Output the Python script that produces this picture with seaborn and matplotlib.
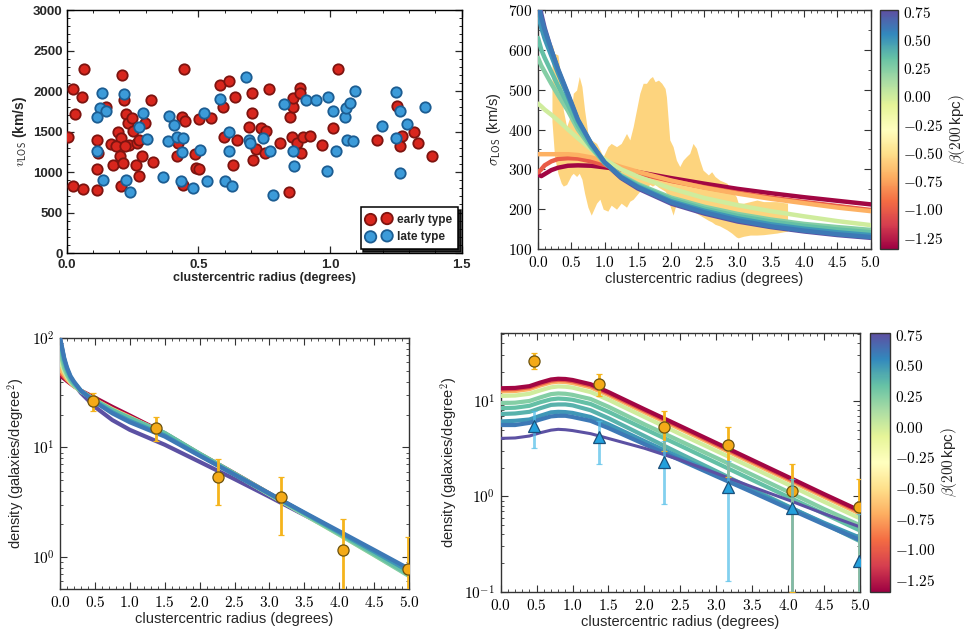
import numpy as np
import pandas as pd
import matplotlib
matplotlib.use('Agg')
import matplotlib.pyplot as plt
import seaborn as sns
from matplotlib.ticker import MultipleLocator, FuncFormatter, LogLocator, NullFormatter
from matplotlib.colors import Normalize, to_rgba
from matplotlib.cm import ScalarMappable

# ---------------- Panel A: scatter ----------------
early_r = [0.006, 0.023, 0.032, 0.023, 0.057, 0.066, 0.061, 0.114, 0.114, 0.114, 0.120, 0.149, 0.168, 0.175,
           0.209, 0.218, 0.205, 0.196, 0.205, 0.187, 0.203, 0.213, 0.225, 0.234, 0.247, 0.238, 0.222, 0.253,
           0.266, 0.263, 0.273, 0.285, 0.297, 0.276, 0.319, 0.327, 0.446, 0.437, 0.449, 0.424, 0.418, 0.443,
           0.489, 0.491, 0.503, 0.504, 0.547, 0.582, 0.618, 0.595, 0.641, 0.597, 0.646, 0.633, 0.703, 0.705,
           0.694, 0.709, 0.719, 0.737, 0.757, 0.753, 0.770, 0.810, 0.846, 0.848, 0.854, 0.858, 0.858, 0.886,
           0.886, 0.873, 0.889, 0.899, 0.924, 0.968, 1.010, 1.032, 1.180, 1.253, 1.272, 1.266, 1.319, 1.335, 1.389]
early_v = [1438, 2022, 1718, 822, 1932, 2269, 789, 1397, 1036, 781, 1233, 1808, 1348, 1089,
           2199, 1891, 822, 1500, 1418, 1315, 1200, 1110, 1718, 1603, 1665, 1336, 1315, 1512,
           1356, 1089, 945, 1200, 1603, 1397, 1891, 1118, 2269, 1685, 1624, 1364, 1200, 842,
           1225, 1044, 1036, 1652, 1665, 2076, 2129, 1808, 1932, 1430, 1397, 1089, 1981, 1734,
           1554, 1151, 1282, 1541, 1512, 1233, 2022, 1356, 748, 1685, 1430, 1808, 1911, 2035,
           1973, 1356, 1233, 1430, 1447, 1336, 1541, 2269, 1389, 1817, 1447, 1323, 1500, 1356, 1192]
late_r = [0.133, 0.127, 0.149, 0.114, 0.114, 0.139, 0.218, 0.225, 0.241, 0.276, 0.291, 0.304, 0.367, 0.390,
          0.408, 0.386, 0.420, 0.443, 0.437, 0.433, 0.481, 0.506, 0.522, 0.534, 0.582, 0.615, 0.618, 0.601,
          0.629, 0.680, 0.694, 0.696, 0.744, 0.772, 0.782, 0.827, 0.861, 0.865, 0.909, 0.947, 0.994, 1.013,
          1.023, 0.987, 1.057, 1.063, 1.089, 1.060, 1.076, 1.095, 1.196, 1.251, 1.266, 1.251, 1.266, 1.294, 1.361]
late_v = [1981, 1788, 1747, 1673, 1254, 896, 1965, 904, 748, 1554, 1734, 1406, 937, 1694,
          1582, 1377, 1438, 1418, 1241, 884, 801, 1274, 1734, 884, 1899, 1500, 1254, 892,
          830, 2170, 1397, 1364, 1418, 1254, 719, 1837, 1254, 1069, 1891, 1891, 1932, 1755,
          1254, 1007, 1685, 1397, 1377, 1796, 1850, 2006, 1562, 1993, 1755, 1418, 986, 1595, 1800]

# ---------------- Panel B: velocity dispersion ----------------
band_x = [0.21, 0.25, 0.30, 0.35, 0.38, 0.43, 0.50, 0.53, 0.58, 0.62, 0.66, 0.70, 0.75, 0.80, 0.88,
          0.93, 0.98, 1.05, 1.10, 1.18, 1.25, 1.33, 1.38, 1.43, 1.48, 1.53, 1.58, 1.63, 1.68, 1.72,
          1.76, 1.81, 1.86, 1.91, 1.93, 1.98, 2.03, 2.08, 2.13, 2.18, 2.23, 2.28, 2.33, 2.38, 2.43,
          2.48, 2.56, 2.61, 2.66, 2.73, 2.84, 2.91, 2.98, 3.01, 3.09, 3.19, 3.29, 3.39, 3.49, 3.59, 3.75]
band_hi = [616, 591, 587, 524, 449, 407, 441, 491, 499, 533, 508, 449, 390, 374, 365,
           349, 332, 357, 365, 357, 365, 390, 374, 407, 449, 491, 516, 516, 528, 533,
           520, 524, 516, 503, 482, 374, 357, 323, 307, 323, 332, 340, 365, 353, 323,
           298, 286, 294, 282, 273, 265, 248, 231, 215, 215, 219, 223, 219, 219, 219, 215]
band_lo = [420, 330, 290, 265, 258, 262, 285, 290, 282, 290, 275, 240, 205, 185, 215,
           225, 200, 195, 210, 200, 215, 205, 220, 225, 235, 245, 250, 255, 262, 258,
           262, 255, 250, 245, 240, 210, 185, 215, 205, 210, 200, 205, 195, 190, 185,
           180, 172, 168, 162, 158, 148, 140, 130, 128, 132, 135, 135, 136, 138, 140, 145]

# line order = drawing order (first drawn ends up underneath)
beta_b = [0.75, -1.33, -1.0, -0.7, 0.0, 0.25, 0.35, 0.5, 0.6]
x_sig = [0, 0.05, 0.1, 0.2, 0.3, 0.45, 0.6, 0.8, 1.0, 1.25, 1.5, 2.0, 2.5, 3.0, 3.5, 4.0, 4.5, 5.0]
sig_p075 = [740, 690, 655, 600, 550, 487, 422, 362, 316, 278, 252, 214, 189, 169, 155, 144, 135, 128]
sig_m133 = [287, 283, 288, 298, 304, 309, 310, 309, 305, 300, 293, 278, 264, 251, 240, 230, 221, 212]
sig_m100 = [292, 300, 310, 320, 326, 328, 327, 320, 311, 300, 290, 271, 255, 241, 229, 218, 208, 198]
sig_m070 = [338, 338, 338, 338, 338, 338, 336, 330, 320, 306, 294, 272, 254, 239, 226, 215, 204, 195]
sig_p000 = [465, 458, 450, 437, 423, 400, 378, 350, 325, 300, 282, 252, 228, 210, 195, 182, 170, 160]
sig_p025 = [580, 560, 545, 515, 487, 447, 400, 354, 316, 285, 263, 229, 206, 188, 174, 163, 155, 148]
sig_p035 = [630, 600, 580, 545, 510, 462, 410, 358, 316, 283, 260, 225, 201, 183, 169, 158, 149, 142]
sig_p050 = [690, 655, 628, 585, 542, 483, 422, 364, 318, 281, 257, 220, 196, 177, 162, 151, 142, 135]
sig_p060 = [720, 680, 650, 600, 553, 490, 425, 365, 318, 280, 255, 217, 192, 172, 157, 146, 137, 130]
sig_lines = [sig_p075, sig_m133, sig_m100, sig_m070, sig_p000, sig_p025, sig_p035, sig_p050, sig_p060]

# ---------------- Panel C: density, all galaxies ----------------
beta_c = [0.75, -1.33, -1.0, -0.7, 0.0, 0.25, 0.35, 0.5, 0.6]
x_den = [0, 0.03, 0.06, 0.1, 0.15, 0.2, 0.3, 0.5, 0.75, 1.0, 1.5, 2.0, 2.5, 3.0, 3.5, 4.0, 4.5, 5.0]
den_p075 = [100, 80, 64, 52, 43, 38, 31.5, 23.5, 17.8, 14.5, 10.6, 7.4, 5.15, 3.55, 2.42, 1.65, 1.12, 0.76]
den_m133 = [45, 44, 42.5, 40.5, 38.3, 36.3, 33, 28.5, 23.5, 19.6, 13.5, 8.75, 5.8, 3.8, 2.5, 1.66, 1.1, 0.74]
den_m100 = [48, 46.5, 44, 41.5, 38.8, 36.5, 33, 27.4, 22.5, 19, 13.4, 8.7, 5.78, 3.78, 2.49, 1.64, 1.09, 0.73]
den_m070 = [52, 49, 46, 42, 39, 36.5, 33, 27.3, 22.4, 18.9, 13.4, 8.7, 5.75, 3.76, 2.47, 1.62, 1.07, 0.71]
den_p000 = [62, 55, 49, 44, 39.5, 36.5, 32.5, 27, 22.2, 18.7, 13.4, 8.7, 5.7, 3.72, 2.44, 1.6, 1.04, 0.68]
den_p025 = [75, 63, 53, 46, 40.5, 37, 32.5, 27, 22, 18.6, 13.5, 8.7, 5.7, 3.72, 2.44, 1.6, 1.04, 0.67]
den_p035 = [85, 70, 58, 49, 42, 38, 33, 27, 22, 18.6, 13.6, 8.8, 5.8, 3.8, 2.5, 1.64, 1.07, 0.69]
den_p050 = [96, 78, 63, 52, 44, 39.5, 33, 26.3, 21, 17.5, 12.9, 8.5, 5.65, 3.78, 2.52, 1.68, 1.12, 0.74]
den_p060 = [100, 82, 66, 54, 45, 40, 33, 26, 20.5, 17, 12.6, 8.4, 5.65, 3.8, 2.55, 1.72, 1.16, 0.78]
den_lines = [den_p075, den_m133, den_m100, den_m070, den_p000, den_p025, den_p035, den_p050, den_p060]

pts_r = [0.47, 1.37, 2.27, 3.16, 4.05, 4.98]
all_dens = [26.5, 15.2, 5.4, 3.5, 1.15, 0.78]
all_err = [5.0, 3.8, 2.4, 1.9, 1.05, 0.75]
late_dens = [5.5, 4.2, 2.3, 1.25, 0.76, 0.21]
late_err = [2.3, 2.0, 1.47, 1.12, 0.75, 0.45]

# ---------------- Panel D: density, late type ----------------
beta_d = [-0.7, -1.0, -1.33, 0.0, 0.25, 0.35, 0.4, 0.5, 0.6, 0.75]
x_late = [0, 0.2, 0.4, 0.55, 0.7, 0.8, 0.9, 1.0, 1.25, 1.5, 2.0, 2.5, 3.0, 3.5, 4.0, 4.5, 5.0]
lt_m070 = [12.6, 12.7, 13.3, 14.5, 15.6, 15.9, 15.8, 15.4, 13.9, 11.5, 7.6, 5.08, 3.38, 2.24, 1.49, 0.99, 0.66]
lt_m100 = [13.2, 13.3, 13.9, 15.1, 16.3, 16.6, 16.5, 16.1, 14.5, 12.0, 7.95, 5.3, 3.52, 2.34, 1.55, 1.03, 0.69]
lt_m133 = [13.6, 13.7, 14.3, 15.6, 16.8, 17.1, 17.0, 16.6, 15.0, 12.4, 8.2, 5.46, 3.63, 2.41, 1.60, 1.06, 0.71]
lt_p000 = [11.3, 11.4, 11.9, 12.9, 13.9, 14.2, 14.1, 13.8, 12.4, 10.3, 6.8, 4.5, 3.0, 2.0, 1.33, 0.88, 0.59]
lt_p025 = [9.5, 9.6, 10.0, 10.9, 11.8, 12.0, 11.9, 11.6, 10.5, 8.7, 5.7, 3.8, 2.54, 1.69, 1.12, 0.74, 0.50]
lt_p035 = [8.4, 8.5, 8.9, 9.7, 10.4, 10.6, 10.5, 10.3, 9.3, 7.7, 5.1, 3.4, 2.25, 1.49, 0.99, 0.66, 0.44]
lt_p040 = [7.3, 7.4, 7.7, 8.4, 9.1, 9.2, 9.2, 9.0, 8.0, 6.6, 4.3, 2.8, 1.84, 1.2, 0.79, 0.52, 0.34]
lt_p050 = [6.1, 6.2, 6.4, 7.0, 7.6, 7.7, 7.65, 7.5, 6.8, 5.7, 3.8, 2.55, 1.72, 1.16, 0.78, 0.53, 0.37]
lt_p060 = [5.6, 5.6, 5.9, 6.4, 6.9, 7.0, 7.0, 6.8, 6.2, 5.2, 3.53, 2.40, 1.63, 1.11, 0.75, 0.51, 0.35]
lt_p075 = [4.06, 4.1, 4.3, 4.65, 4.95, 5.05, 5.0, 4.9, 4.55, 4.05, 3.2, 2.41, 1.75, 1.26, 0.92, 0.66, 0.48]
lt_lines = [lt_m070, lt_m100, lt_m133, lt_p000, lt_p025, lt_p035, lt_p040, lt_p050, lt_p060, lt_p075]

cbar_ticks = [-1.25, -1.0, -0.75, -0.5, -0.25, 0.0, 0.25, 0.5, 0.75]

# ---------------- styling ----------------
sns.set_style('ticks')
plt.rcParams['font.family'] = ['Liberation Sans', 'DejaVu Sans']
plt.rcParams['mathtext.fontset'] = 'cm'

cmap = plt.get_cmap('Spectral')
norm = Normalize(vmin=-1.35, vmax=0.765)

W, H = 967, 636
fig = plt.figure(figsize=(W / 100, H / 100), dpi=100)

def box(x0, y0, x1, y1):
    return [x0 / W, 1 - y1 / H, (x1 - x0) / W, (y1 - y0) / H]

ax1 = fig.add_axes(box(66.7, 10, 461.7, 253))
ax2 = fig.add_axes(box(538, 10, 870.7, 249))
cax2 = fig.add_axes(box(880, 10, 898, 249))
ax3 = fig.add_axes(box(60, 338, 409, 589))
ax4 = fig.add_axes(box(500.7, 333, 860, 592))
cax4 = fig.add_axes(box(870, 333, 890, 592))

SPINE = '#333333'
cm_fmt1 = FuncFormatter(lambda v, p: r'$%.1f$' % v)
cm_int = FuncFormatter(lambda v, p: r'$%d$' % round(v))
cm_log = FuncFormatter(lambda v, p: r'$10^{%d}$' % round(np.log10(v)))
cm_fmt2 = FuncFormatter(lambda v, p: r'$%.2f$' % v)
label_font = dict(fontsize=10.5)

# ---- Panel A
df_e = pd.DataFrame({'r': early_r, 'v': early_v})
df_l = pd.DataFrame({'r': late_r, 'v': late_v})
sns.scatterplot(data=df_e, x='r', y='v', ax=ax1, color='#d8261d', edgecolor='#7d1410',
                linewidth=1.3, s=56, label='early type', zorder=3)
sns.scatterplot(data=df_l, x='r', y='v', ax=ax1, color='#3c9bd9', edgecolor='#1c5d92',
                linewidth=1.3, s=56, label='late type', zorder=3)
ax1.set_xlim(0, 1.5)
ax1.set_ylim(0, 3000)
ax1.xaxis.set_major_locator(MultipleLocator(0.5))
ax1.xaxis.set_minor_locator(MultipleLocator(0.1))
ax1.yaxis.set_major_locator(MultipleLocator(500))
ax1.yaxis.set_minor_locator(MultipleLocator(100))
ax1.xaxis.set_major_formatter(FuncFormatter(lambda v, p: '%.1f' % v))
ax1.tick_params(which='both', direction='in', top=True, right=True, labelsize=9.5)
ax1.tick_params(axis='x', pad=4)
ax1.tick_params(axis='y', pad=3)
ax1.tick_params(which='major', length=5, width=0.9)
ax1.tick_params(which='minor', length=2.5, width=0.7)
for t in ax1.get_xticklabels() + ax1.get_yticklabels():
    t.set_fontweight('bold')
for s in ax1.spines.values():
    s.set_color('black'); s.set_linewidth(1.0)
ax1.set_xlabel('clustercentric radius (degrees)', fontsize=9, fontweight='bold', labelpad=1)
ax1.set_ylabel(r'$v_{\mathsf{LOS}}$ (km/s)', fontsize=10, fontweight='bold', labelpad=3)
leg = ax1.legend(loc='lower right', scatterpoints=2, frameon=True, shadow={'color': 'black', 'alpha': 0.85},
                 fancybox=False, edgecolor='black', prop=dict(weight='bold', size=8.5),
                 borderaxespad=0.3, handletextpad=0.5, labelspacing=0.45, borderpad=0.55,
                 markerscale=1.1)
leg.get_frame().set_linewidth(1.1)
leg.get_frame().set_alpha(1)

def style_cm_axis(ax):
    ax.tick_params(which='both', direction='in', top=True, right=True, labelsize=11, colors=SPINE,
                   labelcolor='black', pad=4)
    ax.tick_params(which='major', length=5, width=0.8)
    ax.tick_params(which='minor', length=2.5, width=0.6)
    for s in ax.spines.values():
        s.set_color(SPINE); s.set_linewidth(1.0)

# ---- Panel B
ax2.fill_between(band_x, band_lo, band_hi, color='#fdd47e', lw=0, zorder=1)
for b, vals in zip(beta_b, sig_lines):
    sns.lineplot(x=x_sig, y=vals, ax=ax2, color=cmap(norm(b)), lw=3.2, estimator=None, zorder=3)
ax2.set_xlim(0, 5)
ax2.set_ylim(100, 700)
ax2.xaxis.set_major_locator(MultipleLocator(0.5))
ax2.xaxis.set_minor_locator(MultipleLocator(0.1))
ax2.yaxis.set_major_locator(MultipleLocator(100))
ax2.yaxis.set_minor_locator(MultipleLocator(50))
ax2.xaxis.set_major_formatter(cm_fmt1)
ax2.yaxis.set_major_formatter(cm_int)
style_cm_axis(ax2)
ax2.set_xlabel('clustercentric radius (degrees)', labelpad=2, **label_font)
ax2.set_ylabel(r'$\sigma_{\mathsf{LOS}}$ (km/s)', labelpad=4, **label_font)

def make_cbar(cax):
    cb = fig.colorbar(ScalarMappable(norm=norm, cmap=cmap), cax=cax)
    cb.set_ticks(cbar_ticks)
    cb.ax.yaxis.set_major_formatter(cm_fmt2)
    cb.ax.tick_params(labelsize=11, length=4, width=0.8, direction='in', colors=SPINE, labelcolor='black')
    cb.outline.set_edgecolor(SPINE)
    cb.outline.set_linewidth(1.0)
    cb.set_label(r'$\beta(200\,$kpc$)$', fontsize=11, labelpad=3)
    return cb

make_cbar(cax2)

# ---- Panel C
for b, vals in zip(beta_c, den_lines):
    sns.lineplot(x=x_den, y=vals, ax=ax3, color=cmap(norm(b)), lw=3.0, estimator=None, zorder=3)
ax3.errorbar(pts_r, all_dens, yerr=all_err, fmt='o', color='#f4aa18', mec='#6b5210', mew=0.9,
             ms=8, ecolor='#f5b41c', elinewidth=2, capsize=2, capthick=1, zorder=5)
ax3.set_yscale('log')
ax3.set_xlim(0, 5)
ax3.set_ylim(0.51, 100)
ax3.xaxis.set_major_locator(MultipleLocator(0.5))
ax3.xaxis.set_minor_locator(MultipleLocator(0.1))
ax3.xaxis.set_major_formatter(cm_fmt1)
ax3.yaxis.set_major_locator(LogLocator(base=10))
ax3.yaxis.set_minor_locator(LogLocator(base=10, subs=np.arange(2, 10)))
ax3.yaxis.set_major_formatter(cm_log)
ax3.yaxis.set_minor_formatter(NullFormatter())
style_cm_axis(ax3)
ax3.set_xlabel('clustercentric radius (degrees)', labelpad=2, **label_font)
ax3.set_ylabel(r'density (galaxies/degree$^2$)', labelpad=4, **label_font)

# ---- Panel D
for b, vals in zip(beta_d, lt_lines):
    lw = 2.2 if b > 0.7 else 3.0
    sns.lineplot(x=x_late, y=vals, ax=ax4, color=cmap(norm(b)), lw=lw, estimator=None, zorder=3)
ax4.errorbar(pts_r, all_dens, yerr=all_err, fmt='o', color='#f4aa18', mec='#6b5210', mew=0.9,
             ms=8, ecolor='#f5b41c', elinewidth=2, capsize=2, capthick=1, zorder=5)
ax4.errorbar(pts_r, late_dens, yerr=late_err, fmt='^', color='#24a0dc', mec='#1b4f7a', mew=0.9,
             ms=8.5, ecolor=to_rgba('#4fbde8', 0.7), elinewidth=2, capsize=2, capthick=1, zorder=6)
ax4.set_yscale('log')
ax4.set_xlim(0, 5)
ax4.set_ylim(0.1, 51.5)
ax4.xaxis.set_major_locator(MultipleLocator(0.5))
ax4.xaxis.set_minor_locator(MultipleLocator(0.1))
ax4.xaxis.set_major_formatter(cm_fmt1)
ax4.yaxis.set_major_locator(LogLocator(base=10))
ax4.yaxis.set_minor_locator(LogLocator(base=10, subs=np.arange(2, 10)))
ax4.yaxis.set_major_formatter(cm_log)
ax4.yaxis.set_minor_formatter(NullFormatter())
style_cm_axis(ax4)
ax4.set_xlabel('clustercentric radius (degrees)', labelpad=2, **label_font)
ax4.set_ylabel(r'density (galaxies/degree$^2$)', labelpad=4, **label_font)

make_cbar(cax4)

fig.savefig('out.png', dpi=100)
